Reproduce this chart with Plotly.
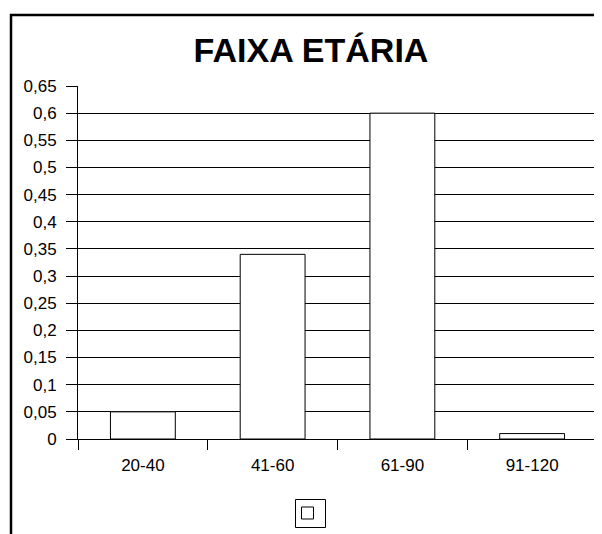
import plotly.graph_objects as go

categories = ["20-40", "41-60", "61-90", "91-120"]
values = [0.05, 0.34, 0.6, 0.01]
y_ticks = [0, 0.05, 0.1, 0.15, 0.2, 0.25, 0.3, 0.35, 0.4, 0.45, 0.5, 0.55, 0.6, 0.65]

W, H = 602, 534
OFF = 8  # page body margin offset
L = 78 - OFF
T = 86 - OFF
R = W - (597 - OFF)
B = H - (439 - OFF)
pw, ph = W - L - R, H - T - B

def px2paper_x(sx):
    return ((sx - OFF) - L) / pw

def px2paper_y(sy):
    return 1 - ((sy - OFF) - T) / ph

fig = go.Figure()
fig.add_trace(go.Bar(
    x=categories, y=values, name=" ",
    marker=dict(color="white", line=dict(color="black", width=1)),
    showlegend=True,
))

fig.update_layout(
    width=W, height=H,
    margin=dict(l=L, r=R, t=T, b=B, autoexpand=False),
    paper_bgcolor="white", plot_bgcolor="white",
    separators=",.",
    bargap=0.5,
    font=dict(family="Liberation Sans, Arial, sans-serif", size=17, color="black"),
    title=dict(text="<b>FAIXA ETÁRIA</b>", x=(311 - OFF) / W, xanchor="center",
               y=1 - (50 - OFF) / H, yanchor="middle",
               font=dict(size=34, family="Liberation Sans, Arial, sans-serif", color="black")),
    showlegend=True,
    legend=dict(orientation="h", x=px2paper_x(287.5), xanchor="left",
                y=px2paper_y(513), yanchor="middle",
                borderwidth=0, bgcolor="rgba(0,0,0,0)",
                itemwidth=30, font=dict(size=1)),
    xaxis=dict(type="category", showline=True, linecolor="black", linewidth=1,
               ticks="outside", tickson="boundaries", ticklen=10, tickcolor="black",
               showgrid=False, tickfont=dict(size=17), ticklabelstandoff=11),
    yaxis=dict(range=[0, 0.65], tickvals=y_ticks, showline=True, linecolor="black",
               linewidth=1, ticks="outside", ticklen=11, tickcolor="black",
               showgrid=True, gridcolor="black", gridwidth=1, zeroline=False,
               tickfont=dict(size=17), ticklabelstandoff=6),
    shapes=[
        dict(type="rect", xref="paper", yref="paper",
             x0=px2paper_x(11), x1=px2paper_x(660),
             y0=px2paper_y(620), y1=px2paper_y(15),
             line=dict(color="black", width=2.5), fillcolor="rgba(0,0,0,0)",
             layer="above"),
        dict(type="rect", xref="paper", yref="paper",
             x0=px2paper_x(295.5), x1=px2paper_x(325.5),
             y0=px2paper_y(527.5), y1=px2paper_y(499.5),
             line=dict(color="black", width=1), fillcolor="rgba(0,0,0,0)",
             layer="above"),
    ],
)

fig.write_html("out.html")
